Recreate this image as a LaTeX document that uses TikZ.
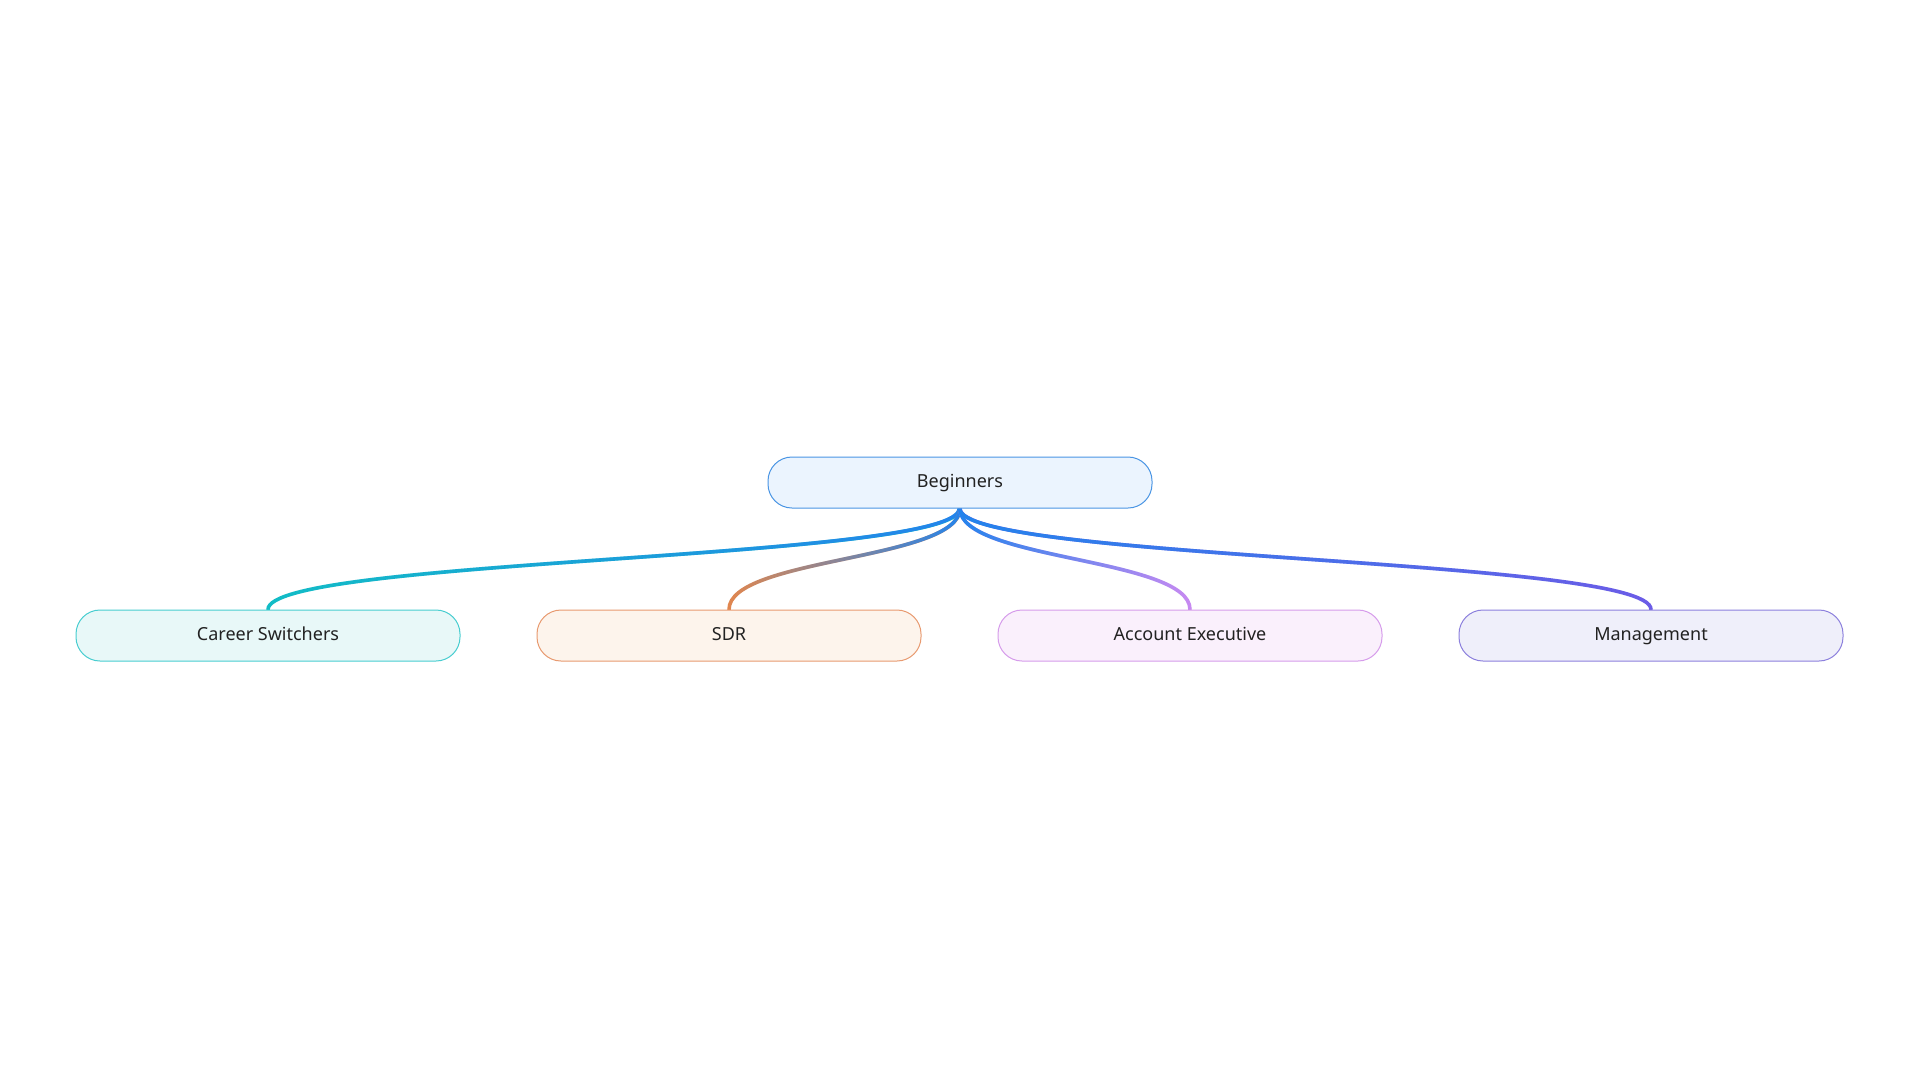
\documentclass[tikz,border=0pt]{standalone}
\usepackage{fontspec}
\setmainfont{Noto Sans}
\usetikzlibrary{calc,fadings,backgrounds}
\definecolor{txt}{HTML}{222222}
\definecolor{lineblue}{HTML}{2484EC}
\definecolor{cteal}{HTML}{12BDC6}
\definecolor{corange}{HTML}{E2874E}
\definecolor{cpurple}{HTML}{C98AF2}
\definecolor{cindigo}{HTML}{6C5CE7}
\definecolor{bfill}{HTML}{EBF4FE}\definecolor{bdraw}{HTML}{4A95E4}
\definecolor{cfill}{HTML}{E8F8F8}\definecolor{cdraw}{HTML}{48CDD0}
\definecolor{sfill}{HTML}{FDF4EC}\definecolor{sdraw}{HTML}{E89A70}
\definecolor{afill}{HTML}{FAF0FC}\definecolor{adraw}{HTML}{D69CEB}
\definecolor{mfill}{HTML}{EFEFFA}\definecolor{mdraw}{HTML}{8C80DD}
\tikzfading[name=opaqueright, left color=transparent!100, right color=transparent!0]
\tikzfading[name=opaqueleft, left color=transparent!0, right color=transparent!100]
\tikzset{
  topicbox/.style={rounded corners=24pt, minimum width=384pt, minimum height=51pt,
    line width=1pt, inner sep=0pt, text=txt, font=\fontsize{18}{22}\selectfont,
    text height=13pt, text depth=4pt},
  link/.style={line width=3.6pt, line cap=round},
}
\begin{document}
\begin{tikzpicture}[x=1pt,y=-1pt]
\useasboundingbox (0,0) rectangle (1920,1080);
\node[topicbox, fill=bfill, draw=bdraw] (beg) at (960,482.5) {Beginners};
\node[topicbox, fill=cfill, draw=cdraw] (car) at (268,635.5) {Career Switchers};
\node[topicbox, fill=sfill, draw=sdraw] (sdr) at (729,635.5) {SDR};
\node[topicbox, fill=afill, draw=adraw] (ae) at (1190,635.5) {Account Executive};
\node[topicbox, fill=mfill, draw=mdraw] (mgt) at (1651,635.5) {Management};
\begin{scope}[on background layer]
\fill[white] (0,0) rectangle (1920,1080);
\foreach \c/\col/\fd in {car/cteal/opaqueright, sdr/corange/opaqueright, ae/cpurple/opaqueleft, mgt/cindigo/opaqueleft}{
  \draw[link, \col] (beg.south) .. controls ($(beg.south)+(0,52)$) and ($(\c.north)+(0,-52)$) .. (\c.north);
  \draw[link, lineblue, path fading=\fd] (beg.south) .. controls ($(beg.south)+(0,52)$) and ($(\c.north)+(0,-52)$) .. (\c.north);
}
\end{scope}
\end{tikzpicture}
\end{document}
